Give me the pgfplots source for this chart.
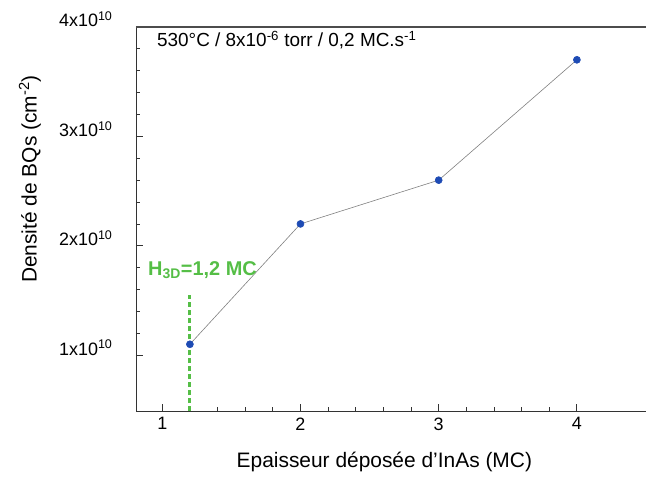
\documentclass[border=0pt]{standalone}
\usepackage{pgfplots}
\pgfplotsset{compat=1.18}
\usepackage{fontspec}
\setmainfont{Liberation Sans}
\definecolor{ptblue}{RGB}{30,75,180}
\definecolor{hgreen}{RGB}{85,190,70}
\begin{document}
\begin{tikzpicture}
\begin{axis}[
  at={(0,0)}, anchor=south west,
  scale only axis, width=510bp, height=384bp,
  xmin=0.81, xmax=4.5, ymin=0.49, ymax=4,
  axis line style={draw=none},
  tick align=inside, xtick pos=bottom, ytick pos=left,
  xtick={1,2,3,4}, xticklabels={1,2,3,4}, minor x tick num=4,
  ytick={1,2,3,4},
  yticklabels={1x10\textsuperscript{10},2x10\textsuperscript{10},3x10\textsuperscript{10},4x10\textsuperscript{10}},
  minor y tick num=4,
  major tick length=7bp, minor tick length=4bp,
  every major tick/.append style={black!80, line width=0.9pt},
  every minor tick/.append style={black!80, line width=0.8pt},
  ticklabel style={font=\fontsize{18}{18}\selectfont},
  yticklabel style={anchor=base east, xshift=-20bp},
  xticklabel style={anchor=north, yshift=-3bp},
  xlabel={Epaisseur déposée d'InAs (MC)},
  ylabel={Densité de BQs (cm\textsuperscript{-2})},
  label style={font=\fontsize{21}{21}\selectfont},
  xlabel style={at={(axis description cs:0.487,-0.133)}, anchor=center},
  ylabel style={at={(axis description cs:-0.208,0.604)}, anchor=center},
  clip=false,
]
\draw[line width=0.9pt, black!80] (rel axis cs:1,0) -- (rel axis cs:0,0) -- (rel axis cs:0,1);
\draw[line width=1.1pt, black!70] (rel axis cs:0,1) -- (rel axis cs:1,1);
% densities in units of 10^10 cm^-2
\addplot[hgreen, line width=3bp, dash pattern=on 5bp off 3bp, forget plot] coordinates {(1.2,0.49) (1.2,1.55)};
\addplot[gray, line width=0.6pt, mark=*, mark size=3.5bp, mark options={ptblue, draw=ptblue}] coordinates {
(1.2,1.1) (2,2.2) (3,2.6) (4,3.7)};
\node[anchor=base west, inner sep=0pt, font=\fontsize{19}{19}\selectfont] at (rel axis cs:0.041,0.948)
  {530°C / 8x10\textsuperscript{-6} torr / 0,2 MC.s\textsuperscript{-1}};
\node[anchor=base west, inner sep=0pt, text=hgreen, font=\fontsize{20}{20}\selectfont\bfseries] at (rel axis cs:0.0235,0.354)
  {H\textsubscript{3D}=1,2 MC};
\end{axis}
\pgfresetboundingbox
\useasboundingbox (-136bp,-72bp) rectangle (510bp,411bp);
\end{tikzpicture}
\end{document}
